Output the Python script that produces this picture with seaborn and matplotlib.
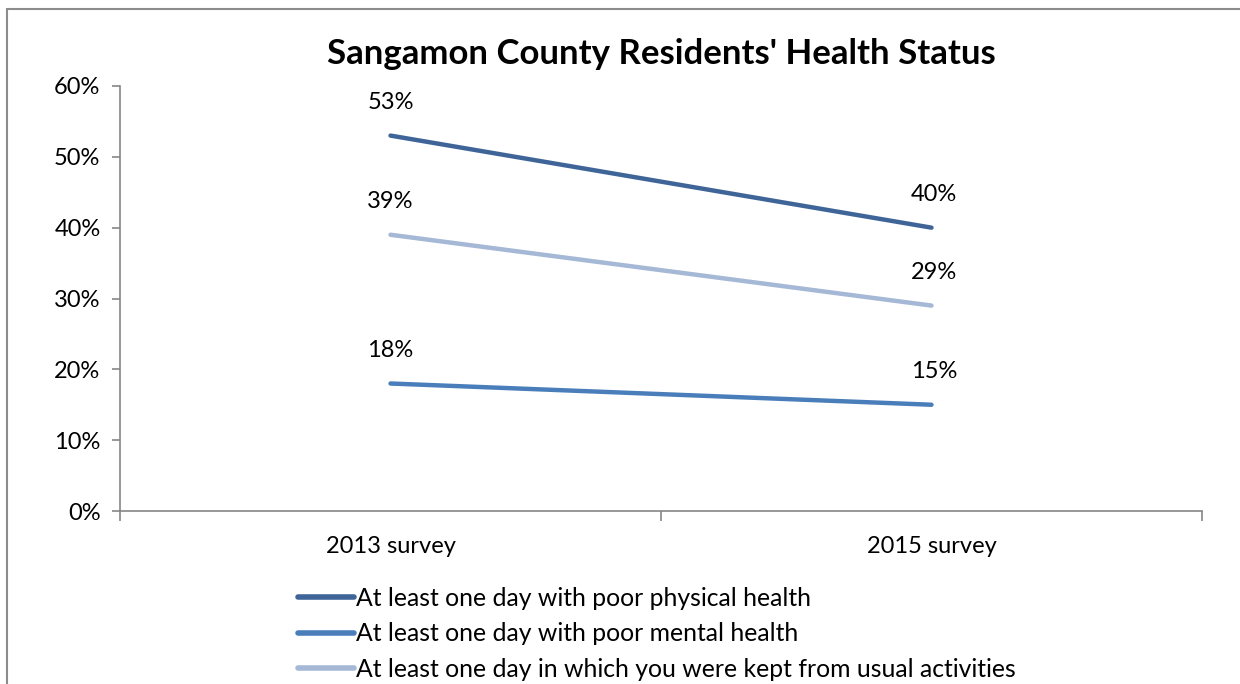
import matplotlib.pyplot as plt
import numpy as np
import pandas as pd
import seaborn as sns
from matplotlib.lines import Line2D
from matplotlib.ticker import PercentFormatter

surveys = ['2013 survey', '2015 survey']
series_names = ['At least one day with poor physical health',
                'At least one day with poor mental health',
                'At least one day in which you were kept from usual activities']
physical = [53, 40]
mental = [18, 15]
kept = [39, 29]
colors = ['#3f6598', '#4a7ebb', '#a5b8d6']

def main():
    sns.set_style('white')
    plt.rcParams['font.family'] = ['Lato', 'DejaVu Sans']
    plt.rcParams['text.color'] = 'black'
    plt.rcParams['xtick.color'] = '#868686'
    plt.rcParams['ytick.color'] = '#868686'
    plt.rcParams['xtick.labelcolor'] = 'black'
    plt.rcParams['ytick.labelcolor'] = 'black'

    df = pd.DataFrame({
        'survey': surveys * 3,
        'value': physical + mental + kept,
        'series': [series_names[0]] * 2 + [series_names[1]] * 2 + [series_names[2]] * 2,
    })

    fig = plt.figure(figsize=(12.4, 6.84), dpi=100)
    ax = fig.add_axes([120 / 1240, 1 - 511 / 684, (1202 - 120) / 1240, (511 - 86) / 684])

    sns.lineplot(data=df, x='survey', y='value', hue='series', palette=colors,
                 linewidth=3.2, ax=ax, legend=True, sort=False)
    for line in ax.lines:
        line.set_solid_capstyle('round')

    #data labels above points
    for vals in [physical, mental, kept]:
        for i, v in enumerate(vals):
            ax.annotate(f'{v}%', (i, v), xytext=(2 * i, 24), textcoords='offset points',
                        ha='center', va='center', fontsize=17, color='black')

    ax.set_xlim(-0.5, 1.5)
    ax.set_ylim(0, 60)
    ax.set_yticks(np.arange(0, 61, 10))
    ax.yaxis.set_major_formatter(PercentFormatter(decimals=0))
    ax.set_xticks([-0.5, 0.5, 1.5])
    ax.set_xticklabels([])
    ax.set_xticks([0, 1], minor=True)
    ax.set_xticklabels(surveys, minor=True)
    ax.tick_params(axis='x', which='major', bottom=True, direction='out', length=7, width=1.2)
    ax.tick_params(axis='x', which='minor', bottom=True, length=0, pad=18, labelsize=17)
    ax.tick_params(axis='y', left=True, direction='out', length=6, width=1.2, labelsize=17, pad=8)
    ax.set_xlabel('')
    ax.set_ylabel('')
    for side in ['top', 'right']:
        ax.spines[side].set_visible(False)
    for side in ['left', 'bottom']:
        ax.spines[side].set_color('#868686')
        ax.spines[side].set_linewidth(1.2)

    ax.set_title("Sangamon County Residents' Health Status", fontsize=25, fontweight='bold', pad=16)

    handles, labels = ax.get_legend_handles_labels()
    ax.legend_.remove()
    leg = fig.legend(handles, labels, loc='upper left', bbox_to_anchor=(298 / 1240, 1 - 587 / 684),
                     frameon=False, fontsize=17.8, handlelength=2.25, handletextpad=0.08,
                     labelspacing=0.5, borderaxespad=0, borderpad=0)
    for h in leg.legend_handles:
        h.set_linewidth(4)
        h.set_solid_capstyle('round')

    #chart border (only top and left visible)
    x0 = 7 / 1240
    y0 = 1 - 9 / 684
    fig.add_artist(Line2D([x0, x0], [0, y0], color='#8c8c8c', linewidth=1.5))
    fig.add_artist(Line2D([x0, 1], [y0, y0], color='#8c8c8c', linewidth=1.5))

    fig.savefig('out.png', dpi=100)

if __name__ == '__main__':
    main()
